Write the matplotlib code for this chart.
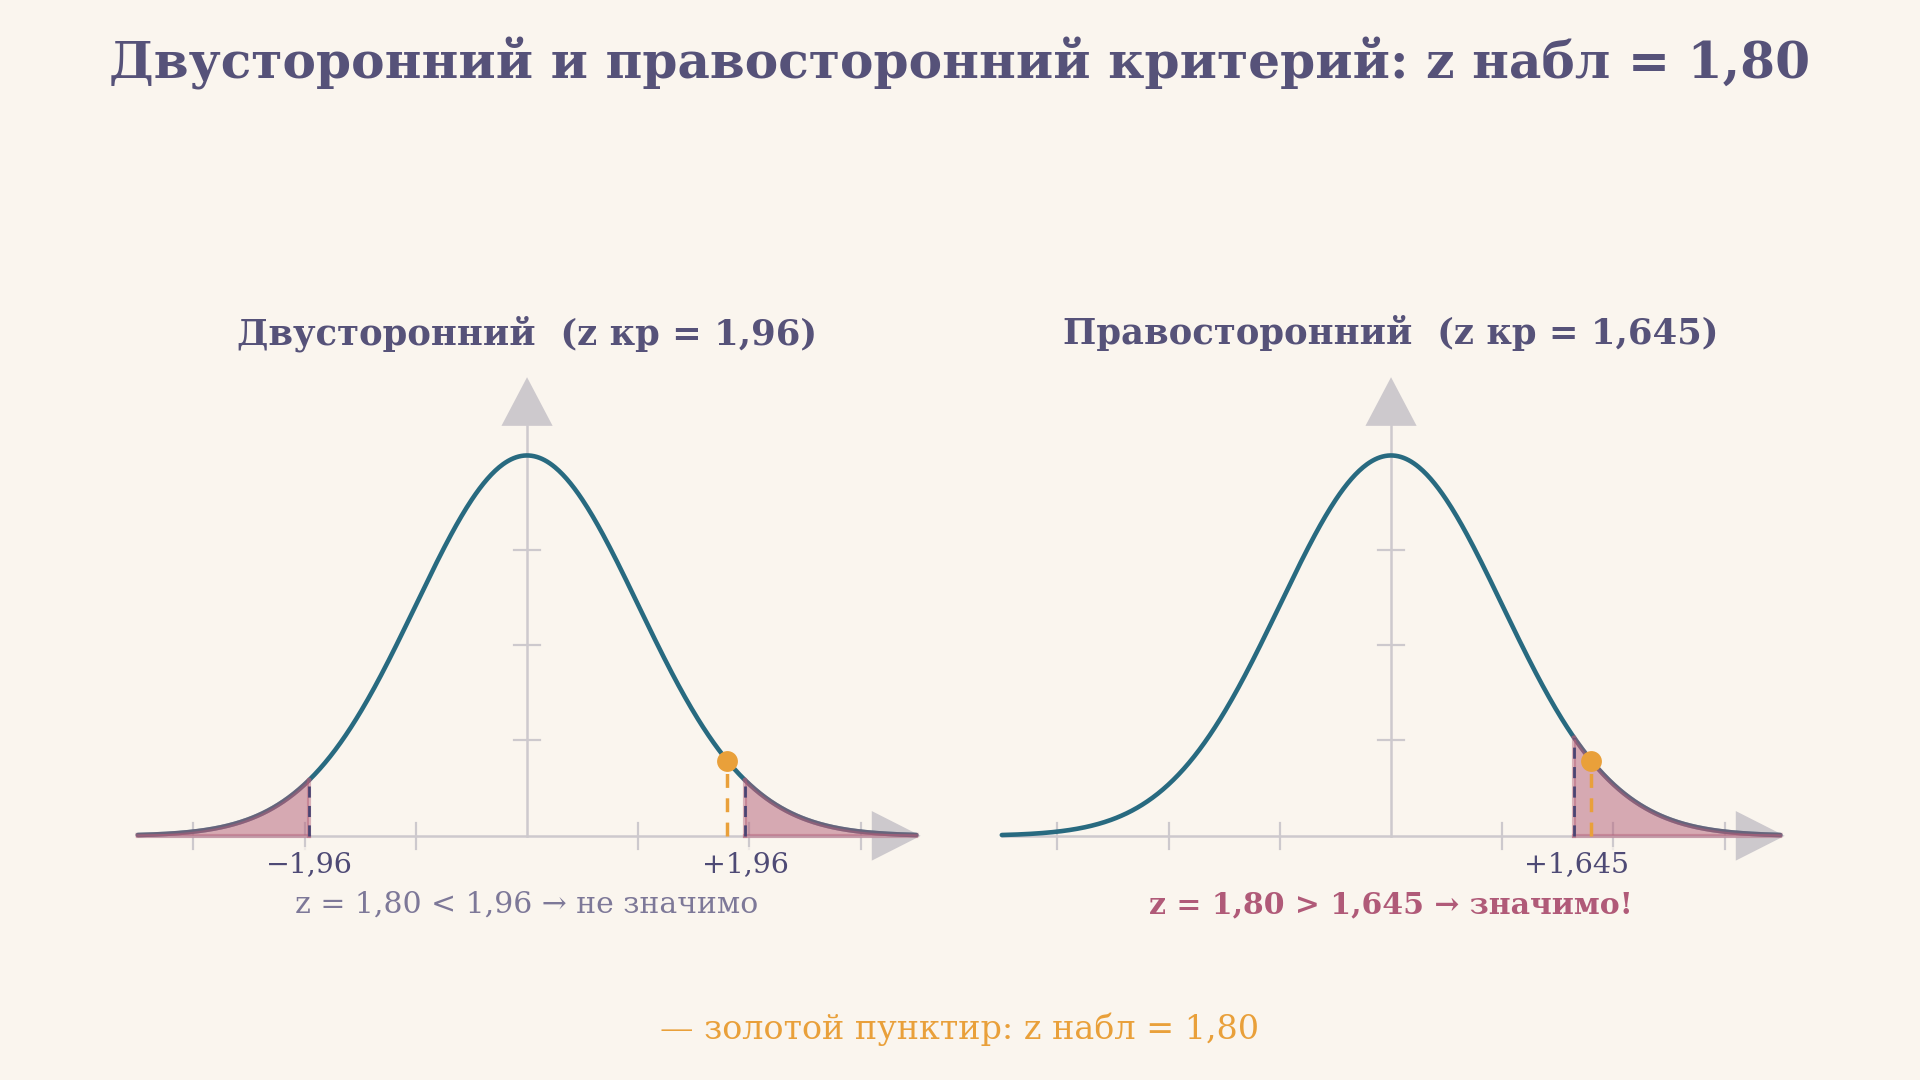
import numpy as np
import matplotlib

matplotlib.use("Agg")
import matplotlib.pyplot as plt  # noqa: E402

# --- data -------------------------------------------------------------
Z_OBS = 1.80
Z_CRIT_TWO = 1.96
Z_CRIT_RIGHT = 1.645
X_MIN, X_MAX = -3.5, 3.5
X_TICKS = [-3, -2, -1, 1, 2, 3]
Y_TICKS = [0.1, 0.2, 0.3]

TITLE = "Двусторонний и правосторонний критерий: z набл = 1,80"
PANEL_TITLES = ["Двусторонний  (z кр = 1,96)", "Правосторонний  (z кр = 1,645)"]
CRIT_LABELS_TWO = ["\u22121,96", "+1,96"]
CRIT_LABELS_RIGHT = ["+1,645"]
VERDICTS = ["z = 1,80 < 1,96 \u2192 не значимо", "z = 1,80 > 1,645 \u2192 значимо!"]
FOOTER = "\u2014 золотой пунктир: z набл = 1,80"

# --- style ------------------------------------------------------------
BG = "#FAF5EE"
INK = "#565279"
LABEL = "#4E4A75"
CURVE = "#286A80"
TAIL = "#B35E78"
CRIT = "#4A4472"
GOLD = "#E9A03A"
AXIS = "#CDC9CD"
FONT = ["DejaVu Serif"]

plt.rcParams["font.family"] = FONT


def pdf(x):
    return np.exp(-x ** 2 / 2) / np.sqrt(2 * np.pi)


def draw_panel(ax, title, tails, labels, verdict, verdict_style):
    ax.set_xlim(-3.75, 3.75)
    ax.set_ylim(-0.06, 0.50)
    ax.axis("off")

    # axes with arrow heads
    ax.plot([X_MIN, 3.1], [0, 0], color=AXIS, lw=1.8, zorder=1)
    ax.plot([0, 0], [0, 0.43], color=AXIS, lw=1.8, zorder=1)
    ax.fill([3.1, 3.54, 3.1], [0.026, 0, -0.026], color=AXIS, lw=0, zorder=1)
    ax.fill([-0.23, 0, 0.23], [0.43, 0.481, 0.43], color=AXIS, lw=0, zorder=1)
    for t in X_TICKS:
        ax.plot([t, t], [-0.0136, 0.0136], color=AXIS, lw=1.6, zorder=1)
    for t in Y_TICKS:
        ax.plot([-0.117, 0.117], [t, t], color=AXIS, lw=1.6, zorder=1)

    x = np.linspace(X_MIN, X_MAX, 600)
    ax.plot(x, pdf(x), color=CURVE, lw=3.3, zorder=3, solid_capstyle="round")

    # rejection regions
    for lo, hi in tails:
        xt = np.linspace(lo, hi, 200)
        ax.fill_between(xt, 0, pdf(xt), facecolor=TAIL, alpha=0.5,
                        edgecolor="none", zorder=4)
        ax.plot(xt, pdf(xt), color=TAIL, lw=3.3, alpha=0.45, zorder=4)
        ax.plot([lo, hi], [0, 0], color=TAIL, lw=3, alpha=0.45, zorder=4)
        edge = lo if abs(lo) < abs(hi) else hi
        ax.plot([edge, edge], [0, pdf(edge)], color=TAIL, lw=3, alpha=0.45,
                zorder=4)
        ax.plot([edge, edge], [0, pdf(edge)], color=CRIT, lw=2,
                dashes=(4, 3), zorder=5)

    for (xv, txt) in labels:
        ax.text(xv, -0.030, txt, ha="center", va="center", fontsize=20.5,
                color=LABEL, zorder=6,
                bbox=dict(boxstyle="square,pad=0.15", fc=BG, ec="none",
                          alpha=0.75))

    # observed statistic
    ax.plot([Z_OBS, Z_OBS], [0, pdf(Z_OBS)], color=GOLD, lw=2.5,
            dashes=(4, 3), zorder=6)
    ax.plot([Z_OBS], [pdf(Z_OBS)], "o", color=GOLD, ms=15, mec="none",
            zorder=7)

    ax.text(0, 0.527, title, ha="center", va="center", fontsize=25.5,
            fontweight="bold", color=INK)
    ax.text(0, -0.072, verdict, ha="center", va="center", fontsize=21.5,
            **verdict_style)


fig = plt.figure(figsize=(19.2, 10.8), dpi=100, facecolor=BG)
ax_l = fig.add_axes([0.0573, 0.1731, 0.4344, 0.4944])
ax_r = fig.add_axes([0.5073, 0.1731, 0.4344, 0.4944])
for ax in (ax_l, ax_r):
    ax.set_facecolor(BG)

draw_panel(
    ax_l, PANEL_TITLES[0],
    tails=[(X_MIN, -Z_CRIT_TWO), (Z_CRIT_TWO, X_MAX)],
    labels=list(zip([-Z_CRIT_TWO, Z_CRIT_TWO], CRIT_LABELS_TWO)),
    verdict=VERDICTS[0],
    verdict_style=dict(color="#7D7898"),
)
draw_panel(
    ax_r, PANEL_TITLES[1],
    tails=[(Z_CRIT_RIGHT, X_MAX)],
    labels=list(zip([Z_CRIT_RIGHT + 0.02], CRIT_LABELS_RIGHT)),
    verdict=VERDICTS[1],
    verdict_style=dict(color="#B05A78", fontweight="bold"),
)

fig.text(0.5, 1 - 64 / 1080, TITLE, ha="center", va="center", fontsize=36.2,
         fontweight="bold", color=INK)
fig.text(0.5, 1 - 1029 / 1080, FOOTER, ha="center", va="center", fontsize=24,
         color=GOLD)

fig.savefig("out.png", dpi=100, facecolor=BG)
